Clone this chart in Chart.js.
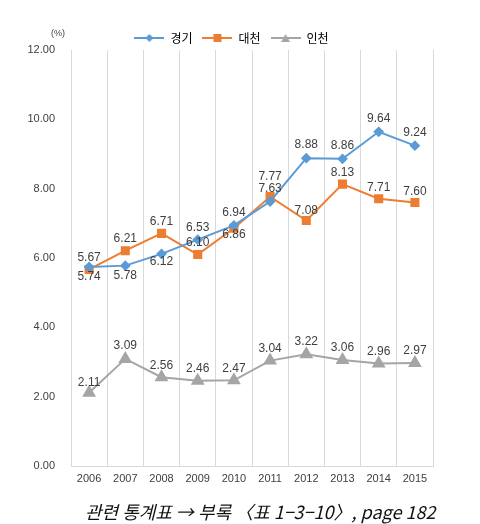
<!DOCTYPE html>
<html>
<head>
<meta charset="utf-8">
<script src="https://cdn.jsdelivr.net/npm/chart.js@4/dist/chart.umd.min.js"></script>
<style>
  body { margin: 0; background: #fff; }
  #wrap { position: relative; width: 480px; height: 524px; }
  #caption {
    position: absolute; left: 85px; top: 498px; white-space: nowrap;
    font: italic 18px "Noto Sans CJK KR", sans-serif; color: #111;
  }
</style>
</head>
<body>
<div id="wrap">
  <canvas id="chart" width="480" height="524"></canvas>
  <div id="caption">관련 통계표 → 부록 〈표 1−3−10〉, page 182</div>
</div>
<script>
const years = ['2006', '2007', '2008', '2009', '2010', '2011', '2012', '2013', '2014', '2015'];
const gyeonggi = [5.74, 5.78, 6.12, 6.53, 6.94, 7.63, 8.88, 8.86, 9.64, 9.24];
const daecheon = [5.67, 6.21, 6.71, 6.10, 6.86, 7.77, 7.08, 8.13, 7.71, 7.60];
const incheon = [2.11, 3.09, 2.56, 2.46, 2.47, 3.04, 3.22, 3.06, 2.96, 2.97];

// label offsets (px) from each point, negative = above
const offGyeonggi = [10, 10, 8, -12, -13, -13, -13, -13, -13, -13];
const offDaecheon = [-12, -12, -12, -12, 7, -20, -10, -11, -11, -11];
const offIncheon = [-10, -13, -12, -12, -12, -12, -13, -12, -12, -12];

// small line + marker picture for the legend
function legendIcon(color, style) {
    const c = document.createElement('canvas');
    c.width = 30; c.height = 10;
    const g = c.getContext('2d');
    g.strokeStyle = color; g.lineWidth = 2;
    g.beginPath(); g.moveTo(0, 5); g.lineTo(30, 5); g.stroke();
    g.fillStyle = color;
    g.beginPath();
    if (style === 'rectRot') { g.moveTo(15, 1); g.lineTo(19, 5); g.lineTo(15, 9); g.lineTo(11, 5); }
    else if (style === 'rect') { g.rect(11, 1, 8, 8); }
    else { g.moveTo(15, 1); g.lineTo(19.5, 9); g.lineTo(10.5, 9); }
    g.fill();
    return c;
}

const labelPlugin = {
    id: 'valueLabels',
    afterLayout(chart) {
        // nudge the legend a little right and down, like the original
        const lg = chart.legend;
        lg.left += 15; lg.right += 15;
        lg.top += 4; lg.bottom += 4;
    },
    afterDatasetsDraw(chart) {
        const ctx = chart.ctx;
        ctx.save();
        ctx.font = '12px "Liberation Sans", Arial, sans-serif';
        ctx.fillStyle = '#404040';
        ctx.textAlign = 'center';
        ctx.textBaseline = 'middle';
        chart.data.datasets.forEach((ds, i) => {
            chart.getDatasetMeta(i).data.forEach((pt, j) => {
                ctx.fillText(ds.data[j].toFixed(2), pt.x, pt.y + ds.offsets[j]);
            });
        });
        // unit label
        ctx.font = '9px "Liberation Sans", Arial, sans-serif';
        ctx.fillText('(%)', chart.chartArea.left - 13, chart.chartArea.top - 16);
        ctx.restore();
    }
};

const ctx = document.getElementById('chart').getContext('2d');
new Chart(ctx, {
    type: 'line',
    data: {
        labels: years,
        datasets: [
            { label: '경기', data: gyeonggi, offsets: offGyeonggi, borderColor: '#5B9BD5', backgroundColor: '#5B9BD5',
              pointStyle: 'rectRot', pointRadius: 4, borderWidth: 2, icon: legendIcon('#5B9BD5', 'rectRot') },
            { label: '대천', data: daecheon, offsets: offDaecheon, borderColor: '#ED7D31', backgroundColor: '#ED7D31',
              pointStyle: 'rect', pointRadius: 5, borderWidth: 2, icon: legendIcon('#ED7D31', 'rect') },
            { label: '인천', data: incheon, offsets: offIncheon, borderColor: '#A5A5A5', backgroundColor: '#A5A5A5',
              pointStyle: 'triangle', pointRadius: 6, borderWidth: 2, icon: legendIcon('#A5A5A5', 'triangle') }
        ]
    },
    options: {
        responsive: false,
        animation: false,
        layout: { padding: { top: 18, right: 47, bottom: 38, left: 0 } },
        plugins: {
            legend: {
                position: 'top',
                labels: {
                    usePointStyle: true,
                    pointStyleWidth: 30,
                    color: '#595959',
                    font: { size: 12, family: '"Noto Sans CJK KR", sans-serif' },
                    padding: 10,
                    generateLabels(chart) {
                        return chart.data.datasets.map((ds, i) => ({
                            text: ds.label, pointStyle: ds.icon, fillStyle: ds.borderColor,
                            strokeStyle: ds.borderColor, lineWidth: 0, datasetIndex: i, hidden: false
                        }));
                    }
                }
            },
            tooltip: { enabled: false }
        },
        scales: {
            x: {
                offset: true,
                grid: { offset: true, color: '#D9D9D9', drawTicks: false },
                border: { color: '#D9D9D9' },
                ticks: { color: '#404040', font: { size: 11, family: '"Liberation Sans", Arial, sans-serif' }, padding: 6 },
                afterFit(scale) { scale.height = 20; }
            },
            y: {
                min: 0, max: 12,
                grid: { display: false },
                border: { display: false },
                ticks: {
                    stepSize: 2, padding: 8, color: '#404040',
                    font: { size: 11, family: '"Liberation Sans", Arial, sans-serif' },
                    callback: v => v.toFixed(2)
                },
                afterFit(scale) { scale.width = 71; }
            }
        }
    },
    plugins: [labelPlugin]
});
</script>
</body>
</html>
